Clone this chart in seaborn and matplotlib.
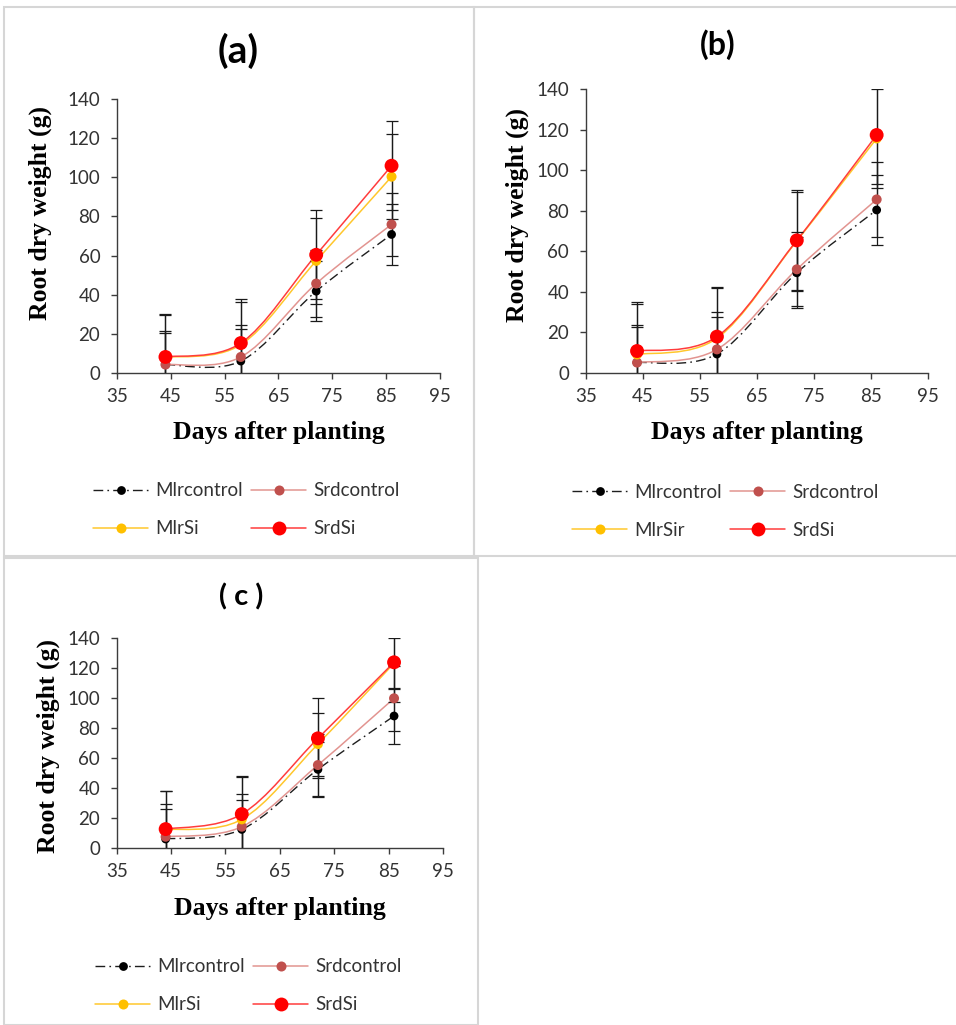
import numpy as np
import matplotlib
matplotlib.use("Agg")
import matplotlib.pyplot as plt
import seaborn as sns
from matplotlib.path import Path
from matplotlib.patches import PathPatch, Rectangle
from matplotlib.lines import Line2D

# ---- data -----------------------------------------------------------------
days = [44, 58, 72, 86]
series_names = ["Mlrcontrol", "Srdcontrol", "MlrSi", "SrdSi"]
series_names_b = ["Mlrcontrol", "Srdcontrol", "MlrSir", "SrdSi"]
x_ticks = [35, 45, 55, 65, 75, 85, 95]
y_ticks = [0, 20, 40, 60, 80, 100, 120, 140]

# panel (a)
a_mlr_control = [4.3, 6.1, 41.8, 70.8]
a_srd_control = [4.3, 8.2, 45.7, 75.9]
a_mlr_si = [8.0, 14.5, 57.3, 100.3]
a_srd_si = [8.2, 15.3, 60.4, 105.9]
a_mlr_control_err = [16.2, 16.6, 15.2, 15.6]
a_srd_control_err = [17.2, 16.2, 17.0, 16.3]
a_mlr_si_err = [21.5, 21.8, 21.8, 21.6]
a_srd_si_err = [22.1, 22.7, 22.8, 22.8]

# panel (b)
b_mlr_control = [5.0, 9.2, 49.3, 80.3]
b_srd_control = [5.0, 11.5, 51.0, 85.5]
b_mlr_si = [9.0, 17.0, 65.0, 115.6]
b_srd_si = [10.7, 17.8, 65.3, 117.3]
b_mlr_control_err = [17.7, 18.1, 17.6, 17.2]
b_srd_control_err = [18.5, 18.3, 18.3, 18.5]
b_mlr_si_err = [25.0, 24.8, 24.0, 24.5]
b_srd_si_err = [24.3, 24.3, 24.8, 24.0]

# panel (c)
c_mlr_control = [5.8, 12.2, 52.2, 87.8]
c_srd_control = [7.3, 14.0, 55.1, 99.6]
c_mlr_si = [12.0, 18.9, 69.1, 123.0]
c_srd_si = [12.4, 22.4, 72.9, 123.6]
c_mlr_control_err = [19.8, 19.5, 18.0, 18.9]
c_srd_control_err = [21.6, 21.8, 21.0, 21.8]
c_mlr_si_err = [25.5, 28.5, 21.0, 17.0]
c_srd_si_err = [25.4, 25.4, 26.7, 26.3]

# ---- styles ---------------------------------------------------------------
styles = [
    dict(line="#1e1e1e", marker="#000000", s=40, ls=(0, (7, 3, 1.2, 3)), lw=1.0),
    dict(line="#E29490", marker="#C0504D", s=52, ls="-", lw=1.1),
    dict(line="#FFC72C", marker="#FFC000", s=52, ls="-", lw=1.1),
    dict(line="#FF3C3C", marker="#FF0000", s=100, ls="-", lw=1.1),
]

sns.set_theme(style="white")
plt.rcParams["font.family"] = ["Lato", "DejaVu Sans"]

W, H = 956, 1025
fig = plt.figure(figsize=(W / 100, H / 100), dpi=100)
fig.patch.set_facecolor("white")


def fx(px):
    return px / W


def fy(py):
    return 1 - py / H


def smooth_path(x, y):
    """Bezier curve through the points, Excel-style smoothing."""
    pts = np.column_stack([np.asarray(x, float), np.asarray(y, float)])
    n = len(pts)
    verts = [pts[0]]
    codes = [Path.MOVETO]
    for i in range(n - 1):
        p0 = pts[i - 1] if i > 0 else pts[i]
        p1, p2 = pts[i], pts[i + 1]
        p3 = pts[i + 2] if i + 2 < n else pts[i + 1]
        verts += [p1 + (p2 - p0) / 6, p2 - (p3 - p1) / 6, p2]
        codes += [Path.CURVE4] * 3
    return Path(verts, codes)


def draw_panel(rect_px, values, errors, names, title, title_xy, title_size,
               ylabel_xy, xlabel_y, legend_xy):
    left, top, right, bottom = rect_px
    ax = fig.add_axes([fx(left), fy(bottom), fx(right - left), (bottom - top) / H])
    ax.set_facecolor("white")

    for k, vals in enumerate(values):
        st = styles[k]
        ax.add_patch(PathPatch(smooth_path(days, vals), facecolor="none",
                               edgecolor=st["line"], lw=st["lw"],
                               linestyle=st["ls"], zorder=2 + k * 0.1))
    for vals, err in zip(values, errors):
        ax.errorbar(days, vals, yerr=err, fmt="none", ecolor="#1a1a1a",
                    elinewidth=0.9, capsize=4.6, capthick=0.9, zorder=3)
    for k, vals in enumerate(values):
        st = styles[k]
        sns.scatterplot(x=days, y=vals, ax=ax, color=st["marker"], s=st["s"],
                        edgecolor="none", linewidth=0, zorder=4 + k * 0.1,
                        legend=False)

    ax.set_xlim(35, 95)
    ax.set_ylim(0, 140)
    ax.set_xticks(x_ticks)
    ax.set_yticks(y_ticks)
    for side in ("top", "right"):
        ax.spines[side].set_visible(False)
    for side in ("left", "bottom"):
        ax.spines[side].set_color("#3c3c3c")
        ax.spines[side].set_linewidth(1.0)
    ax.tick_params(axis="both", direction="out", length=4.5, width=1.0,
                   color="#3c3c3c", labelsize=13.5, labelcolor="#333333",
                   left=True, bottom=True)
    ax.tick_params(axis="y", pad=7.5)
    ax.tick_params(axis="x", pad=6.5)
    ax.grid(False)

    ax.set_xlabel("Days after planting", family="Liberation Serif",
                  fontweight="bold", fontsize=18.5, color="black")
    ax.xaxis.set_label_coords(0.5, (bottom - xlabel_y) / (bottom - top))
    ax.xaxis.label.set_va("center")
    ax.set_ylabel("Root dry weight (g)", family="Liberation Serif",
                  fontweight="bold", fontsize=18.5, color="black")
    ax.yaxis.set_label_coords((ylabel_xy[0] - left) / (right - left),
                              (bottom - ylabel_xy[1]) / (bottom - top))
    ax.yaxis.label.set_va("center")

    fig.text(fx(title_xy[0]), fy(title_xy[1]), title, fontsize=title_size,
             fontweight="bold", ha="center", va="center", color="black")

    handles = []
    order = [0, 2, 1, 3]
    for k in order:
        st = styles[k]
        ms = np.sqrt(st["s"])
        handles.append(Line2D([0], [0], color=st["line"], lw=st["lw"],
                              linestyle=st["ls"], marker="o", markersize=ms,
                              markerfacecolor=st["marker"],
                              markeredgecolor="none"))
    ax.legend(handles, [names[k] for k in order], ncol=2, loc="center left",
              bbox_to_anchor=(fx(legend_xy[0]), fy(legend_xy[1])),
              bbox_transform=fig.transFigure, frameon=False, fontsize=13.5,
              handlelength=2.95, handletextpad=0.37, columnspacing=0.43,
              labelspacing=1.12, borderpad=0, borderaxespad=0,
              labelcolor="#333333")
    return ax


# panel frames
for (x0, y0, x1, y1) in [(4, 7, 474, 556), (474, 7, 957, 556), (4, 558, 478, 1025)]:
    fig.add_artist(Rectangle((fx(x0), fy(y1)), fx(x1 - x0), (y1 - y0) / H,
                             transform=fig.transFigure, fill=False,
                             edgecolor="#D6D6D6", lw=1.5, zorder=0))

draw_panel((117, 99, 440, 373),
           [a_mlr_control, a_srd_control, a_mlr_si, a_srd_si],
           [a_mlr_control_err, a_srd_control_err, a_mlr_si_err, a_srd_si_err],
           series_names, "(a)", (238, 51), 28, (40, 213), 433, (93, 510))

draw_panel((585.7, 89, 928, 372.7),
           [b_mlr_control, b_srd_control, b_mlr_si, b_srd_si],
           [b_mlr_control_err, b_srd_control_err, b_mlr_si_err, b_srd_si_err],
           series_names_b, "(b)", (718, 45), 23, (517, 215), 433, (572, 511))

draw_panel((116.7, 637.7, 443, 847.7),
           [c_mlr_control, c_srd_control, c_mlr_si, c_srd_si],
           [c_mlr_control_err, c_srd_control_err, c_mlr_si_err, c_srd_si_err],
           series_names, "( c )", (241, 597), 21, (48, 746), 908, (95, 986))

fig.savefig("out.png", dpi=100, facecolor="white")
